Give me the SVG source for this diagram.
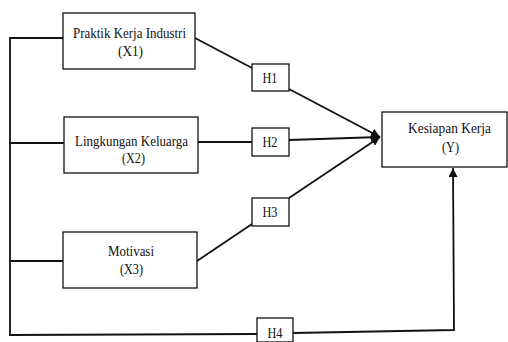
<svg xmlns="http://www.w3.org/2000/svg" width="508" height="342" viewBox="0 0 508 342">
<style>
.box{fill:#fff;stroke:#111;stroke-width:1.3}
.ln{fill:none;stroke:#111;stroke-width:1.8}
.t{font-family:'Liberation Serif','Times New Roman',serif;font-size:14px;fill:#111;text-anchor:middle}
</style>
<defs>
<marker id="ah" viewBox="0 0 10 10" refX="10" refY="5" markerWidth="5" markerHeight="5" orient="auto" markerUnits="strokeWidth">
<path d="M0,0 L10,5 L0,10 z" fill="#111"/>
</marker>
</defs>
<rect width="508" height="342" fill="#fff"/>
<g id="connectors">
<path class="ln" d="M63,38 H10 V335 L257,334"/>
<path class="ln" d="M64,143 H10"/>
<path class="ln" d="M63,261 H10"/>
<path class="ln" d="M195,38 L252,68"/>
<path class="ln" d="M289,89 L380,137" marker-end="url(#ah)"/>
<path class="ln" d="M198,142 L252,142"/>
<path class="ln" d="M289,140 L380,137" marker-end="url(#ah)"/>
<path class="ln" d="M197,261 L252,224"/>
<path class="ln" d="M289,198 L380,137" marker-end="url(#ah)"/>
<path class="ln" d="M293,333 L454,330 L453,168" marker-end="url(#ah)"/>
</g>
<g id="X1"><rect class="box" x="63" y="13" width="132" height="56"/><text class="t" x="129.5" y="38" textLength="113" lengthAdjust="spacingAndGlyphs">Praktik Kerja Industri</text><text class="t" x="130.5" y="56" textLength="25" lengthAdjust="spacingAndGlyphs">(X1)</text></g>
<g id="X2"><rect class="box" x="64" y="117" width="134" height="56"/><text class="t" x="131.5" y="146" textLength="113" lengthAdjust="spacingAndGlyphs">Lingkungan Keluarga</text><text class="t" x="133.5" y="163" textLength="23" lengthAdjust="spacingAndGlyphs">(X2)</text></g>
<g id="X3"><rect class="box" x="63" y="232" width="134" height="56"/><text class="t" x="131" y="256" textLength="46" lengthAdjust="spacingAndGlyphs">Motivasi</text><text class="t" x="131.5" y="274" textLength="23" lengthAdjust="spacingAndGlyphs">(X3)</text></g>
<g id="H1"><rect class="box" x="252" y="64" width="37" height="27"/><text class="t" x="270" y="83" textLength="15" lengthAdjust="spacingAndGlyphs">H1</text></g>
<g id="H2"><rect class="box" x="252" y="128" width="37" height="28"/><text class="t" x="270" y="147" textLength="15" lengthAdjust="spacingAndGlyphs">H2</text></g>
<g id="H3"><rect class="box" x="252" y="198" width="37" height="28"/><text class="t" x="270" y="217" textLength="15" lengthAdjust="spacingAndGlyphs">H3</text></g>
<g id="H4"><rect class="box" x="257" y="318" width="36" height="24"/><text class="t" x="275" y="338" textLength="15" lengthAdjust="spacingAndGlyphs">H4</text></g>
<g id="Y"><rect class="box" x="382" y="112" width="125" height="55"/><text class="t" x="449.5" y="133" textLength="83" lengthAdjust="spacingAndGlyphs">Kesiapan Kerja</text><text class="t" x="450.5" y="152" textLength="17" lengthAdjust="spacingAndGlyphs">(Y)</text></g>
</svg>
